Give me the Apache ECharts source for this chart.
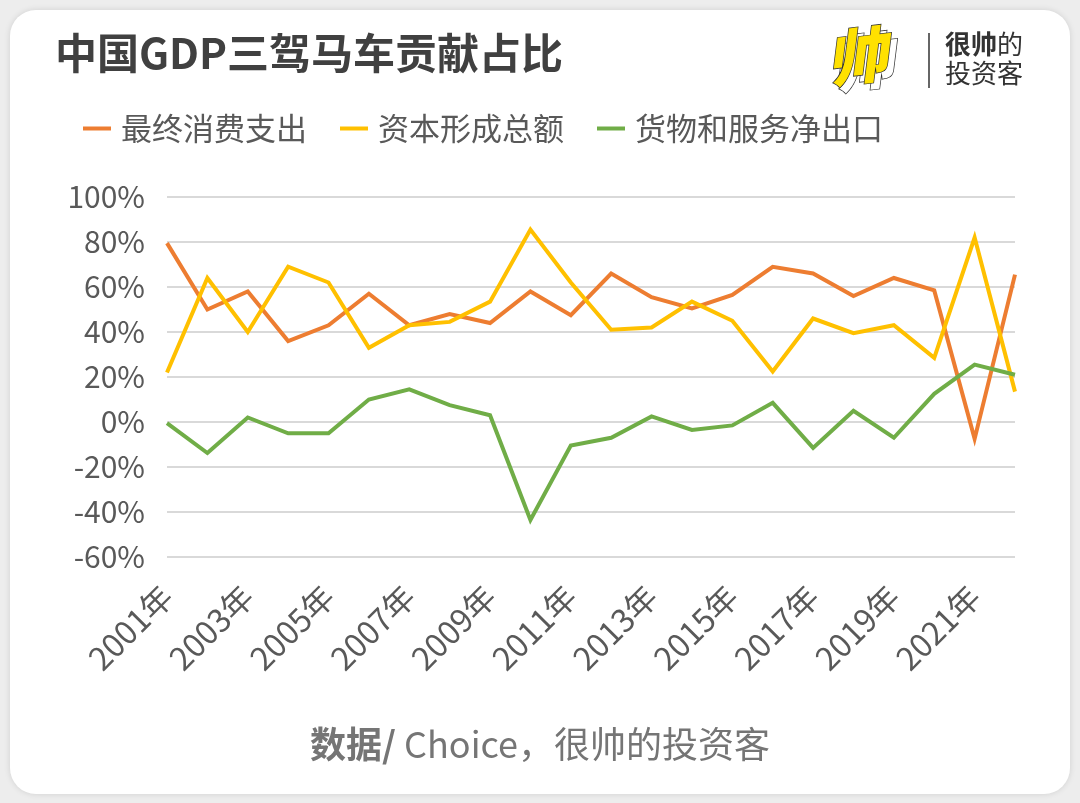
<!DOCTYPE html>
<html>
<head>
<meta charset="utf-8">
<script src="https://cdn.jsdelivr.net/npm/echarts@6/dist/echarts.min.js"></script>
<style>
html,body{margin:0;padding:0;background:#ededed;}
#main{width:1080px;height:803px;}
</style>
</head>
<body>
<div id="main"></div>
<script>
const years = ['2001年','2002年','2003年','2004年','2005年','2006年','2007年','2008年','2009年','2010年','2011年','2012年','2013年','2014年','2015年','2016年','2017年','2018年','2019年','2020年','2021年','2022年'];
const consumption = [79.5, 50, 58, 36, 43, 57, 43, 48, 44, 58, 47.5, 66, 55.5, 50.5, 56.5, 69, 66, 56, 64, 58.5, -7.5, 65.5];
const capital = [22, 64, 40, 69, 62, 33, 43, 44.5, 53.5, 85.5, 62, 41, 42, 53.5, 45, 22.5, 46, 39.5, 43, 28.5, 82, 13.5];
const netExport = [-0.5, -13.8, 2, -5, -5, 10, 14.5, 7.5, 3, -43.5, -10.5, -7, 2.5, -3.5, -1.5, 8.5, -11.5, 5, -7, 12.5, 25.5, 21];
const seriesNames = ['最终消费支出','资本形成总额','货物和服务净出口'];
const colors = ['#ED7D31','#FFC000','#70AD47'];
const yTicks = {min:-60, max:100, interval:20};

const chart = echarts.init(document.getElementById('main'), null, {renderer:'canvas'});
const FONT = '"Noto Sans CJK SC", "Noto Sans", sans-serif';
const option = {
  backgroundColor: '#ededed',
  animation: false,
  textStyle: {fontFamily: FONT},
  graphic: [
    {type:'rect', left:10, top:10, shape:{width:1060, height:784, r:26},
     style:{fill:'#ffffff', shadowBlur:6, shadowColor:'rgba(0,0,0,0.12)'}, z:-10},
    {type:'text', left:55, top:32, style:{text:'中国GDP三驾马车贡献占比', fill:'#404040', font:'bold 42px ' + FONT}},
    // logo
    {type:'group', left:822, top:22, children:[
      {type:'text', x:6, y:10, rotation:0.12, style:{text:'帅', fill:'#ffffff', stroke:'#333', lineWidth:1.5, font:'italic 900 60px ' + FONT}},
      {type:'text', x:0, y:4, rotation:0.12, style:{text:'帅', fill:'#FFE100', stroke:'#333', lineWidth:1.5, font:'italic 900 60px ' + FONT}}
    ]},
    {type:'line', shape:{x1:929, y1:33, x2:929, y2:88}, style:{stroke:'#333', lineWidth:1.5}},
    {type:'text', left:945, top:31, style:{rich:{b:{font:'bold 26px ' + FONT, fill:'#333'}, n:{font:'26px ' + FONT, fill:'#333'}}, text:'{b|很帅}{n|的}'}},
    {type:'text', left:945, top:60, style:{text:'投资客', font:'26px ' + FONT, fill:'#333'}},
    {type:'text', left:'center', top:726, style:{rich:{b:{font:'bold 36px ' + FONT, fill:'#757575'}, n:{font:'36px ' + FONT, fill:'#757575'}}, text:'{b|数据/}{n| Choice，很帅的投资客}'}}
  ],
  legend: {
    data: seriesNames,
    left: 78, top: 108,
    itemWidth: 28, itemHeight: 4, itemGap: 33,
    icon: 'rect',
    textStyle: {fontSize: 31, color: '#595959', fontFamily: FONT, padding:[0,0,0,5]}
  },
  grid: {left:167, right:65, top:197, bottom:246, containLabel:false},
  xAxis: {
    type:'category', data: years, boundaryGap:false,
    axisLine:{show:false}, axisTick:{show:false},
    axisLabel:{interval:1, rotate:45, fontSize:32, color:'#595959', margin:34, fontFamily: FONT}
  },
  yAxis: {
    type:'value', min:yTicks.min, max:yTicks.max, interval:yTicks.interval,
    axisLine:{show:false}, axisTick:{show:false},
    axisLabel:{formatter: v => v + '%', fontSize:30, color:'#595959', margin:22, fontFamily: FONT},
    splitLine:{lineStyle:{color:'#d9d9d9', width:2}}
  },
  series: [consumption, capital, netExport].map((d,i)=>({
    name: seriesNames[i], type:'line', data:d, symbol:'none',
    lineStyle:{width:4, color:colors[i], join:'miter'}, itemStyle:{color:colors[i]}
  }))
};
chart.setOption(option);
</script>
</body>
</html>
